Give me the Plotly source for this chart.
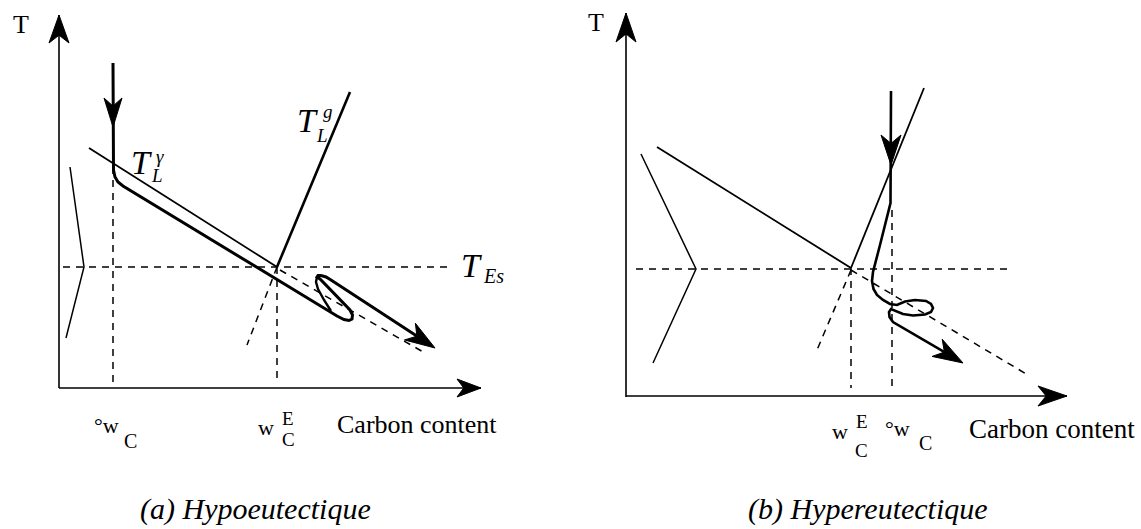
import numpy as np
import plotly.graph_objects as go

W, H = 1141, 529
FONT = "Liberation Serif, Times New Roman, serif"
INK = "black"

# ---------------- Panel (a) : hypoeutectic ----------------
a_axis_T_x = [59, 59]
a_axis_T_y = [388, 15]
a_axis_C_x = [59, 481]
a_axis_C_y = [388, 388]
a_solidus_x = [70, 84, 66]
a_solidus_y = [167, 267, 338]
a_liq_gamma_x = [89, 277]
a_liq_gamma_y = [148, 267]
a_liq_graph_x = [277, 350]
a_liq_graph_y = [267, 92]
a_eutectic_x = [63, 447]
a_eutectic_y = [267, 267]
a_w0_x = [113, 113]
a_w0_y = [167, 384]
a_wE_x = [277, 277]
a_wE_y = [267, 384]
a_graph_ext_x = [277, 247]
a_graph_ext_y = [267, 345]
a_gamma_ext_x = [280, 425]
a_gamma_ext_y = [270, 353]
a_path_x = [113, 113, 113.5, 115, 118, 123, 277, 327, 337, 344, 349, 352, 352.5, 350,
            325, 320, 317, 318, 321, 326, 331, 435]
a_path_y = [63, 127, 170, 177, 182, 186, 280, 310, 316, 319.5, 320.5, 319, 315, 310,
            284, 279, 277, 275.5, 275.5, 277, 280, 348]
a_loop_x = [317, 316, 318, 324, 331]
a_loop_y = [277, 282, 289, 300, 311]

# ---------------- Panel (b) : hypereutectic ----------------
b_axis_T_x = [626, 626]
b_axis_T_y = [397, 13]
b_axis_C_x = [626, 1067]
b_axis_C_y = [396, 396]
b_solidus_x = [641, 696, 653]
b_solidus_y = [154, 269, 363]
b_liq_gamma_x = [657, 851]
b_liq_gamma_y = [147, 268]
b_liq_graph_x = [851, 924]
b_liq_graph_y = [268, 88]
b_eutectic_x = [636, 1007]
b_eutectic_y = [269, 269]
b_w0_x = [892, 892]
b_w0_y = [210, 388]
b_wE_x = [851, 851]
b_wE_y = [268, 388]
b_graph_ext_x = [851, 817]
b_graph_ext_y = [270, 350]
b_gamma_ext_x = [851, 1028]
b_gamma_ext_y = [270, 375]
b_path_x = [891, 891, 890.5, 880, 873, 872, 873.5, 877, 883, 890, 897, 905, 915, 926, 931,
            933, 931, 925, 913, 903, 896, 891, 889, 889.5, 893, 900, 963]
b_path_y = [91, 165, 203, 245, 272, 281, 289, 295, 300, 304, 305, 301.5, 300, 301, 304,
            308, 312, 314.5, 315.5, 314, 311, 309, 312, 317, 322, 326, 363]

# ---------------- Text labels ----------------
lab_text = ["T", "<i>T</i>", "<i>γ</i>", "<i>L</i>", "<i>T</i>", "<i>g</i>", "<i>L</i>",
            "<i>T</i>", "<i>Es</i>", "°w", "C", "w", "E", "C", "Carbon content",
            "<i>(a) Hypoeutectique</i>",
            "T", "w", "E", "C", "°w", "C", "Carbon content", "<i>(b) Hypereutectique</i>"]
lab_x = [21, 141, 160, 157, 307, 328, 322, 471, 493, 92, 130, 266, 288, 288, 335, 255,
         596, 840, 862, 861, 883, 925, 967, 868]
lab_y = [24, 162, 156, 175, 120, 111, 135, 265, 276, 425, 441, 427, 418, 439, 424, 509,
         22, 431, 421, 450, 428, 443, 429, 509]
lab_size = [26, 34, 19, 19, 34, 19, 19, 34, 20, 22, 20, 22, 19, 19, 26, 30,
            26, 22, 19, 19, 22, 20, 27, 30]
lab_anchor = ["center"] * 9 + ["left"] + ["center"] * 4 + ["left", "center",
              "center", "center", "center", "center", "left", "center", "left", "center"]


def head(xs, ys, length, half, notch=0.72):
    tip = np.array([xs[-1], ys[-1]], float)
    prev = np.array([xs[-2], ys[-2]], float)
    d = tip - prev
    d /= np.linalg.norm(d)
    n = np.array([-d[1], d[0]])
    base = tip - length * d
    pts = [tip, base + half * n, tip - notch * length * d, base - half * n, tip]
    return [p[0] for p in pts], [p[1] for p in pts]


def trimmed(xs, ys, back):
    tip = np.array([xs[-1], ys[-1]], float)
    prev = np.array([xs[-2], ys[-2]], float)
    d = tip - prev
    d /= np.linalg.norm(d)
    end = tip - back * d
    return list(xs[:-1]) + [end[0]], list(ys[:-1]) + [end[1]]


fig = go.Figure()


def line(xs, ys, width, dash="solid"):
    fig.add_trace(go.Scatter(x=xs, y=ys, mode="lines", hoverinfo="skip",
                             line=dict(color=INK, width=width, dash=dash)))


def arrow_head(xs, ys, length, half):
    hx, hy = head(xs, ys, length, half)
    fig.add_trace(go.Scatter(x=hx, y=hy, mode="lines", fill="toself", fillcolor=INK,
                             hoverinfo="skip", line=dict(color=INK, width=1)))


DASH = "7px,6px"

# panel a
line(a_axis_T_x, a_axis_T_y, 1.6)
arrow_head(a_axis_T_x, a_axis_T_y, 28, 10)
line(a_axis_C_x, a_axis_C_y, 1.6)
arrow_head(a_axis_C_x, a_axis_C_y, 24, 9)
line(a_solidus_x, a_solidus_y, 1.5)
line(a_liq_gamma_x, a_liq_gamma_y, 1.8)
line(a_liq_graph_x, a_liq_graph_y, 2.6)
for xs, ys in [(a_eutectic_x, a_eutectic_y), (a_w0_x, a_w0_y), (a_wE_x, a_wE_y),
               (a_graph_ext_x, a_graph_ext_y), (a_gamma_ext_x, a_gamma_ext_y)]:
    line(xs, ys, 1.5, DASH)
px, py = trimmed(a_path_x, a_path_y, 14)
line(px, py, 3)
line(a_loop_x, a_loop_y, 2.4)
arrow_head(a_path_x[:2], a_path_y[:2], 29, 9)
arrow_head(a_path_x[-2:], a_path_y[-2:], 30, 10)

# panel b
line(b_axis_T_x, b_axis_T_y, 1.6)
arrow_head(b_axis_T_x, b_axis_T_y, 29, 10)
line(b_axis_C_x, b_axis_C_y, 1.6)
arrow_head(b_axis_C_x, b_axis_C_y, 29, 10)
line(b_solidus_x, b_solidus_y, 1.5)
line(b_liq_gamma_x, b_liq_gamma_y, 1.8)
line(b_liq_graph_x, b_liq_graph_y, 1.8)
for xs, ys in [(b_eutectic_x, b_eutectic_y), (b_w0_x, b_w0_y), (b_wE_x, b_wE_y),
               (b_graph_ext_x, b_graph_ext_y), (b_gamma_ext_x, b_gamma_ext_y)]:
    line(xs, ys, 1.5, DASH)
px, py = trimmed(b_path_x, b_path_y, 14)
line(px, py, 2.6)
arrow_head(b_path_x[:2], b_path_y[:2], 30, 10)
arrow_head(b_path_x[-2:], b_path_y[-2:], 30, 10)

for t, x, y, s, anc in zip(lab_text, lab_x, lab_y, lab_size, lab_anchor):
    fig.add_annotation(x=x, y=y, xref="x", yref="y", text=t, showarrow=False,
                       xanchor=anc, yanchor="middle",
                       font=dict(family=FONT, size=s, color=INK))

fig.update_layout(
    width=W, height=H, margin=dict(l=0, r=0, t=0, b=0),
    paper_bgcolor="white", plot_bgcolor="white", showlegend=False,
    xaxis=dict(range=[0, W], visible=False, fixedrange=True),
    yaxis=dict(range=[H, 0], visible=False, fixedrange=True),
)

fig.write_html("out.html", config={"displayModeBar": False},
               post_script="document.body.style.margin='0';document.body.style.overflow='hidden';")
